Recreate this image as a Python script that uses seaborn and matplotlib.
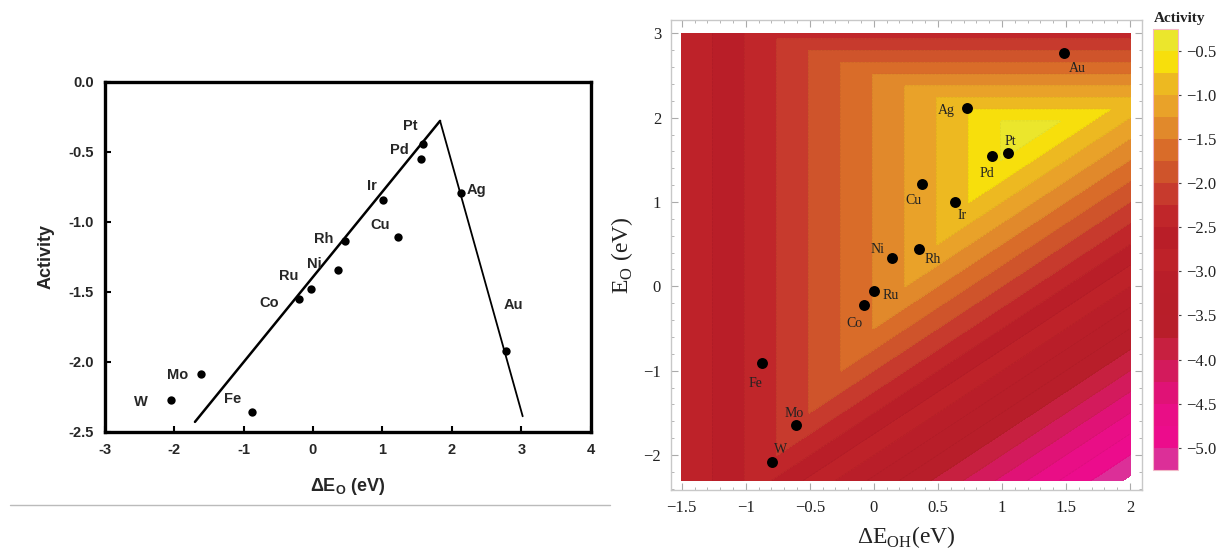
import numpy as np
import pandas as pd
import matplotlib
matplotlib.use("Agg")
import matplotlib.pyplot as plt
from matplotlib.lines import Line2D
import seaborn as sns

# ---------------- data: left panel (volcano) ----------------
left_elements = ['Pt', 'Pd', 'Ir', 'Ag', 'Cu', 'Rh', 'Ni', 'Ru', 'Co', 'Au', 'Mo', 'W', 'Fe']
left_dEO = [1.58, 1.55, 1.01, 2.13, 1.22, 0.46, 0.36, -0.03, -0.20, 2.78, -1.61, -2.05, -0.88]
left_activity = [-0.445, -0.555, -0.847, -0.793, -1.107, -1.136, -1.345, -1.483, -1.554,
                 -1.924, -2.086, -2.274, -2.357]
volcano_x = [-1.70, 1.83, 3.02]
volcano_y = [-2.43, -0.28, -2.39]
left_xticks = [-3, -2, -1, 0, 1, 2, 3, 4]
left_yticks = [0.0, -0.5, -1.0, -1.5, -2.0, -2.5]

# ---------------- data: right panel (2D activity map) ----------------
right_elements = ['Au', 'Ag', 'Pt', 'Pd', 'Ir', 'Cu', 'Rh', 'Ni', 'Ru', 'Co', 'Fe', 'Mo', 'W']
right_dEOH = [1.485, 0.725, 1.05, 0.92, 0.63, 0.375, 0.35, 0.14, 0.0, -0.076, -0.872, -0.605, -0.794]
right_EO = [2.77, 2.12, 1.575, 1.54, 1.0, 1.21, 0.437, 0.33, -0.05, -0.22, -0.905, -1.64, -2.08]
# activity surface = min of three planes: const + dx*dEOH + dy*EO
plane_const = [-1.49, 3.03, -1.0]
plane_dx = [1.0, 0.0, -1.0]
plane_dy = [0.0, -1.8, 1.0]
map_xrange = [-1.5, 2.0]
map_yrange = [-2.3, 3.0]
activity_levels = [-5.25, -5.0, -4.75, -4.5, -4.25, -4.0, -3.75, -3.5, -3.25, -3.0, -2.75,
                   -2.5, -2.25, -2.0, -1.75, -1.5, -1.25, -1.0, -0.75, -0.5, -0.25]
band_colors = ['#DC2F98', '#EC0C8C', '#E90E86', '#E01276', '#D31A5C', '#C72040',
               '#B81E2A', '#B81E29', '#B91E29', '#BE2229', '#B91E28',
               '#C0262A', '#C73A2D', '#CF542B', '#D96C29', '#E1892B',
               '#E9A229', '#EDB921', '#F7DF0C', '#EBE62C']
right_xticks = [-1.5, -1.0, -0.5, 0.0, 0.5, 1.0, 1.5, 2.0]
right_xticklabels = ['\u22121.5', '\u22121', '\u22120.5', '0', '0.5', '1', '1.5', '2']
right_yticks = [-2, -1, 0, 1, 2, 3]
right_yticklabels = ['\u22122', '\u22121', '0', '1', '2', '3']
cbar_ticks = [-0.5, -1.0, -1.5, -2.0, -2.5, -3.0, -3.5, -4.0, -4.5, -5.0]
cbar_ticklabels = ['\u22120.5', '\u22121.0', '\u22121.5', '\u22122.0', '\u22122.5',
                   '\u22123.0', '\u22123.5', '\u22124.0', '\u22124.5', '\u22125.0']

# label offsets in pixels (dx, dy)
left_offsets = {'Pt': (-12, 18), 'Pd': (-21, 9), 'Ir': (-11, 14), 'Ag': (16, 3),
                'Cu': (-18, 12), 'Rh': (-21, 2), 'Ni': (-24, 6), 'Ru': (-22, 13),
                'Co': (-30, -4), 'Au': (7, 46), 'Mo': (-24, -1), 'W': (-30, -2),
                'Fe': (-19, 13)}
right_offsets = {'Au': (13, -16), 'Ag': (-20, -3), 'Pt': (2, 12), 'Pd': (-5, -17),
                 'Ir': (8, -14), 'Cu': (-8, -16), 'Rh': (14, -10), 'Ni': (-14, 9),
                 'Ru': (17, -5), 'Co': (-10, -19), 'Fe': (-7, -21), 'Mo': (-2, 11),
                 'W': (8, 12)}

sns.set_theme(style="white")
plt.rcParams['font.family'] = ['Liberation Sans', 'DejaVu Sans']
plt.rcParams['mathtext.fontset'] = 'custom'
plt.rcParams['mathtext.rm'] = 'Liberation Serif'
plt.rcParams['mathtext.bf'] = 'Liberation Sans:bold'

fig = plt.figure(figsize=(12.16, 5.49), dpi=100)

# ================= LEFT PANEL =================
axl = fig.add_axes([0.0861, 0.2137, 0.3997, 0.6375])
df_left = pd.DataFrame({'dEO': left_dEO, 'activity': left_activity, 'el': left_elements})
df_line = pd.DataFrame({'x': volcano_x, 'y': volcano_y})
sns.lineplot(data=df_line.iloc[:2], x='x', y='y', ax=axl, color='black', lw=1.8, sort=False)
sns.lineplot(data=df_line.iloc[1:], x='x', y='y', ax=axl, color='black', lw=1.3, sort=False)
sns.scatterplot(data=df_left, x='dEO', y='activity', ax=axl, color='black', s=36,
                edgecolor='black', linewidth=0, zorder=5)
for el, xv, yv in zip(left_elements, left_dEO, left_activity):
    dx, dy = left_offsets[el]
    axl.annotate(el, (xv, yv), xytext=(dx, dy), textcoords='offset pixels',
                 ha='center', va='center', fontsize=10.5, fontweight='bold',
                 family='Liberation Sans')
axl.set_xlim(-3, 4)
axl.set_ylim(-2.5, 0.0)
axl.set_xticks(left_xticks)
axl.set_xticklabels([str(t) for t in left_xticks])
axl.set_yticks(left_yticks)
axl.set_yticklabels(['%.1f' % t for t in left_yticks])
for lab in axl.get_xticklabels() + axl.get_yticklabels():
    lab.set_fontweight('bold')
    lab.set_fontsize(10.5)
axl.tick_params(direction='in', length=4, width=1.5, color='black', pad=8,
                bottom=True, left=True, top=False, right=False)
for sp in axl.spines.values():
    sp.set_linewidth(2.4)
    sp.set_color('black')
axl.set_xlabel(r'ΔE$_{\mathbf{O}}$ (eV)', fontsize=13, fontweight='bold', labelpad=14)
axl.set_ylabel('Activity', fontsize=13, fontweight='bold', labelpad=10)

# separator line
fig.add_artist(Line2D([0.008, 0.502], [0.080, 0.080], color='#BBBBBB', lw=1.0,
                      transform=fig.transFigure))

# ================= RIGHT PANEL =================
axr = fig.add_axes([0.5516, 0.1075, 0.3873, 0.8561])
gx = np.linspace(map_xrange[0], map_xrange[1], 701)
gy = np.linspace(map_yrange[0], map_yrange[1], 701)
GX, GY = np.meshgrid(gx, gy)
planes = [c + a * GX + b * GY for c, a, b in zip(plane_const, plane_dx, plane_dy)]
A = np.minimum.reduce(planes)
cs = axr.contourf(GX, GY, A, levels=activity_levels, colors=band_colors)
axr.contour(GX, GY, A, levels=activity_levels[1:-1], colors='black', linewidths=0.5,
            alpha=0.06)

df_right = pd.DataFrame({'dEOH': right_dEOH, 'EO': right_EO, 'el': right_elements})
sns.scatterplot(data=df_right, x='dEOH', y='EO', ax=axr, color='black', s=62,
                edgecolor='black', linewidth=0, zorder=5)
for el, xv, yv in zip(right_elements, right_dEOH, right_EO):
    dx, dy = right_offsets[el]
    axr.annotate(el, (xv, yv), xytext=(dx, dy), textcoords='offset pixels',
                 ha='center', va='center', fontsize=10, color='#222222',
                 family='Liberation Serif')

axr.set_xlim(-1.586, 2.091)
axr.set_ylim(-2.415, 3.158)
axr.set_xticks(right_xticks)
axr.set_xticklabels(right_xticklabels, family='Liberation Serif', fontsize=12)
axr.set_yticks(right_yticks)
axr.set_yticklabels(right_yticklabels, family='Liberation Serif', fontsize=12)
axr.set_xticks(np.arange(-1.5, 2.01, 0.1), minor=True)
axr.set_yticks(np.arange(-2.4, 3.11, 0.2), minor=True)
axr.tick_params(which='both', direction='in', color='#AAAAAA', top=True, right=True,
                bottom=True, left=True, labelcolor='#222222')
axr.tick_params(which='major', length=5, width=0.8, pad=7)
axr.tick_params(which='minor', length=2.5, width=0.6)
for sp in axr.spines.values():
    sp.set_linewidth(1.0)
    sp.set_color('#C8C8C8')
axr.set_xlabel(r'ΔE$_{\mathrm{OH}}$(eV)', fontsize=17, family='Liberation Serif',
               labelpad=6, color='#222222')
axr.set_ylabel(r'E$_{\mathrm{O}}$ (eV)', fontsize=17, family='Liberation Serif',
               labelpad=6, color='#222222')

# colorbar
cax = fig.add_axes([0.9482, 0.1439, 0.0206, 0.8041])
cb = fig.colorbar(cs, cax=cax, ticks=cbar_ticks)
cb.ax.set_yticklabels(cbar_ticklabels, family='Liberation Serif', fontsize=12,
                      color='#222222')
cb.ax.tick_params(length=2.5, width=0.8, color='#444444', direction='out', pad=3)
cb.outline.set_edgecolor('#F2B8C8')
cb.outline.set_linewidth(0.8)
fig.text(0.949, 0.966, 'Activity', family='Liberation Serif', fontsize=11,
         fontweight='bold', ha='left', va='center', color='#222222')

fig.savefig('out.png', dpi=100)
